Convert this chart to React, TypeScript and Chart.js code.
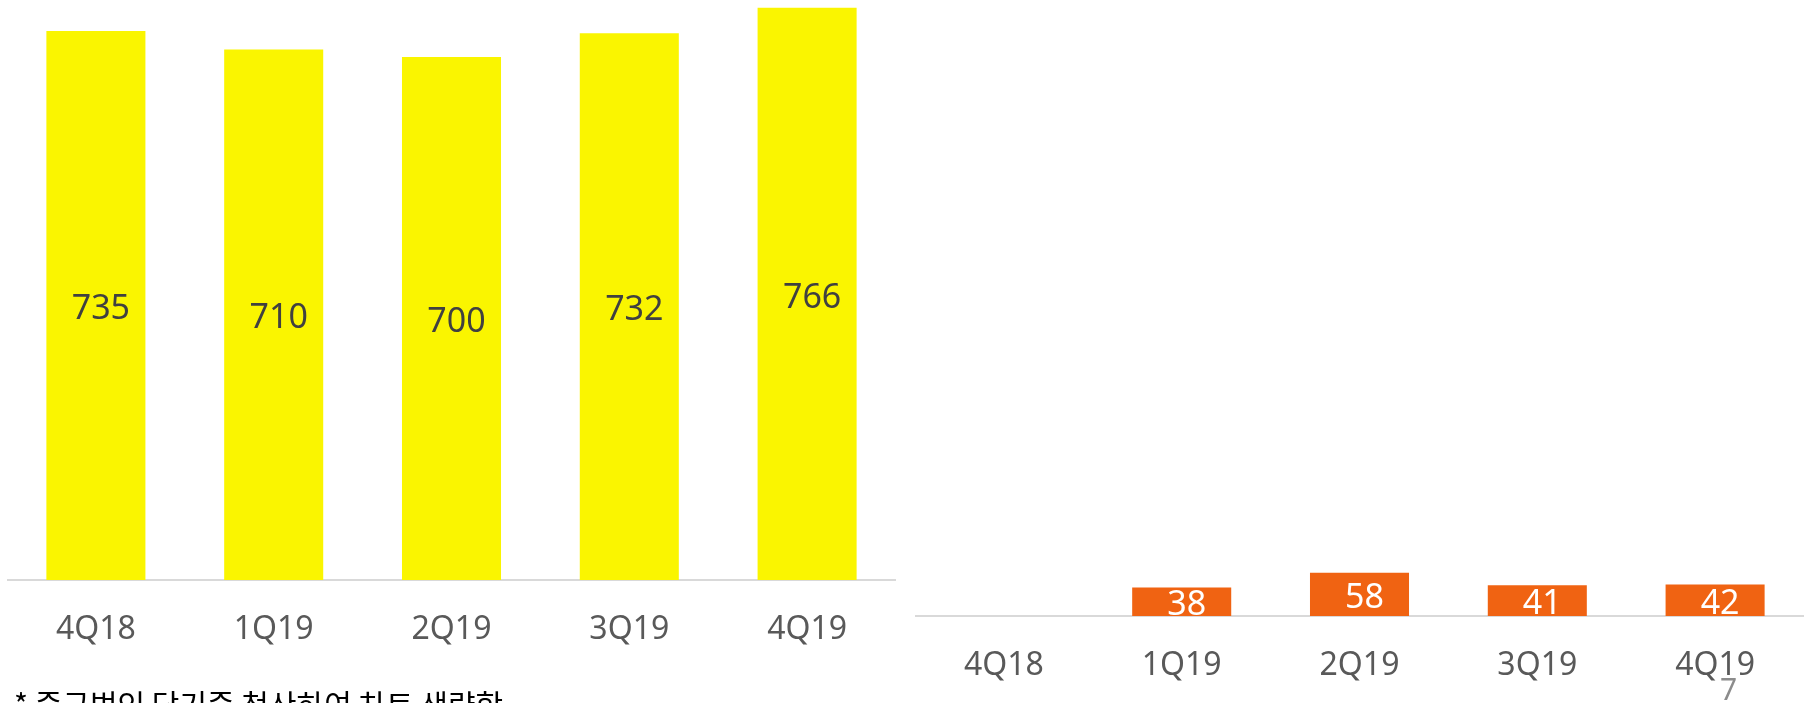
import React, { useEffect, useRef } from 'react';
import { Chart, registerables } from 'chart.js';

Chart.register(...registerables);

// ---- data ----
const categories: string[] = ['4Q18', '1Q19', '2Q19', '3Q19', '4Q19'];
const leftValues: (number | null)[] = [735, 710, 700, 732, 766];
const rightValues: (number | null)[] = [null, 38, 58, 41, 42];
const leftAxisMax = 776.4;
const rightAxisMax = 824.6;
const footnote = '* 중국법인 당기중 청산하여 차트 생략함';
const pageNumber = '7';

const FONT = '"Noto Sans", "Open Sans", sans-serif';

const valueLabels = {
  id: 'valueLabels',
  afterDatasetsDraw(chart: any, _args: any, opts: any) {
    const ctx = chart.ctx;
    const meta = chart.getDatasetMeta(0);
    const data = chart.data.datasets[0].data;
    ctx.save();
    ctx.font = opts.font;
    ctx.fillStyle = opts.color;
    ctx.textAlign = 'center';
    ctx.textBaseline = 'middle';
    meta.data.forEach((bar: any, i: number) => {
      const v = data[i];
      if (v === null || v === undefined) return;
      const p = bar.getProps(['x', 'y', 'base'], true);
      ctx.fillText(String(v), p.x + (opts.dx || 0), (p.y + p.base) / 2 + (opts.dy || 0));
    });
    ctx.restore();
  },
};

function makeConfig(values: (number | null)[], color: string, max: number, scaleHeight: number, tickPad: number, labelColor: string) {
  return {
    type: 'bar' as const,
    data: {
      labels: categories,
      datasets: [
        {
          data: values,
          backgroundColor: color,
          borderWidth: 0,
          barPercentage: 0.557,
          categoryPercentage: 1.0,
        },
      ],
    },
    plugins: [valueLabels],
    options: {
      responsive: false,
      animation: false,
      devicePixelRatio: 1,
      layout: { padding: 0 },
      plugins: {
        legend: { display: false },
        tooltip: { enabled: false },
        valueLabels: { font: `34px ${FONT}`, color: labelColor, dx: 5, dy: 4 },
      },
      scales: {
        x: {
          grid: { display: false, drawTicks: false },
          border: { display: true, color: '#D9D9D9', width: 2 },
          ticks: {
            color: '#595959',
            font: { family: FONT, size: 32 },
            padding: tickPad,
            maxRotation: 0,
            autoSkip: false,
          },
          afterFit: (scale: any) => {
            scale.height = scaleHeight;
          },
        },
        y: {
          display: false,
          min: 0,
          max: max,
        },
      },
    },
  };
}

function BarChart(props: { values: (number | null)[]; color: string; max: number; scaleHeight: number; tickPad: number; labelColor: string; left: number }) {
  const ref = useRef<HTMLCanvasElement | null>(null);
  useEffect(() => {
    if (!ref.current) return;
    const chart = new Chart(ref.current, makeConfig(props.values, props.color, props.max, props.scaleHeight, props.tickPad, props.labelColor) as any);
    return () => chart.destroy();
  }, []);
  return (
    <canvas
      ref={ref}
      width={889}
      height={703}
      style={{ position: 'absolute', left: props.left, top: 0, width: 889, height: 703 }}
    />
  );
}

export default function App() {
  return (
    <div
      style={{
        position: 'fixed',
        left: 0,
        top: 0,
        width: 1804,
        height: 703,
        overflow: 'hidden',
        background: '#ffffff',
      }}
    >
      <BarChart values={leftValues} color="#FAF500" max={leftAxisMax} scaleHeight={123} tickPad={31} labelColor="#404040" left={7} />
      <BarChart values={rightValues} color="#F06312" max={rightAxisMax} scaleHeight={87} tickPad={31} labelColor="#FFFFFF" left={915} />
      <div
        style={{
          position: 'absolute',
          left: 14,
          top: 688,
          fontFamily: '"Noto Sans CJK KR", sans-serif',
          fontSize: 30,
          lineHeight: 1,
          color: '#000000',
          whiteSpace: 'nowrap',
        }}
      >
        {footnote}
      </div>
      <div
        style={{
          position: 'absolute',
          left: 1720,
          top: 674,
          fontFamily: FONT,
          fontSize: 30,
          lineHeight: 1,
          color: '#8C8C8C',
          whiteSpace: 'nowrap',
        }}
      >
        {pageNumber}
      </div>
    </div>
  );
}
